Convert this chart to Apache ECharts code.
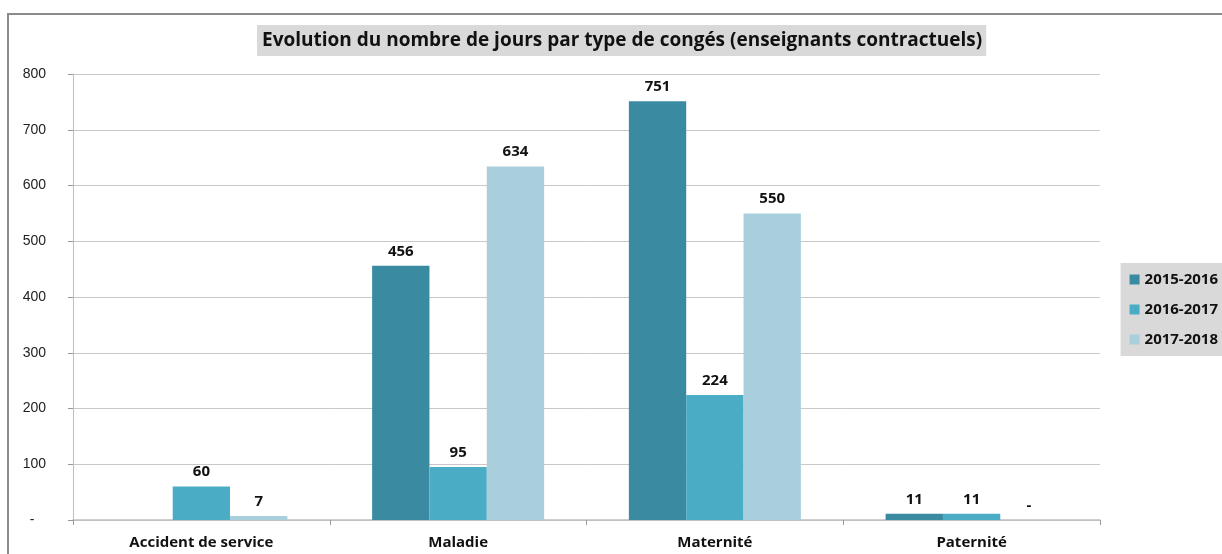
<!DOCTYPE html>
<html>
<head>
<meta charset="utf-8">
<script src="https://cdn.jsdelivr.net/npm/echarts@6/dist/echarts.min.js"></script>
<style>
  html, body { margin: 0; padding: 0; background: #fff; }
  #chart { width: 1222px; height: 554px; }
</style>
</head>
<body>
<div id="chart"></div>
<script>
var categories = ['Accident de service', 'Maladie', 'Maternité', 'Paternité']
var years = ['2015-2016', '2016-2017', '2017-2018']
var s2015 = [null, 456, 751, 11]
var s2016 = [60, 95, 224, 11]
var s2017 = [7, 634, 550, 0]
var colors = ['#3a8ba2', '#4bacc6', '#a9cfdc']

var myChart = echarts.init(document.getElementById('chart'))

function mkSeries(name, data, color) {
  return {
    name: name,
    type: 'bar',
    data: data,
    barGap: '0%',
    barCategoryGap: '33%',
    itemStyle: { color: color },
    label: {
      show: true,
      position: 'top',
      distance: 7,
      color: '#111',
      fontFamily: 'Open Sans',
      fontWeight: 'bold',
      fontSize: 15,
      formatter: function (p) {
        if (p.value === null || p.value === undefined) return ''
        return p.value === 0 ? '-' : p.value
      }
    }
  }
}

var option = {
  animation: false,
  backgroundColor: '#fff',
  textStyle: { fontFamily: 'Open Sans' },
  title: {
    text: 'Evolution du nombre de jours par type de congés (enseignants contractuels)',
    left: 257,
    top: 25,
    backgroundColor: '#d9d9d9',
    padding: [6, 4, 6, 5],
    textStyle: { fontFamily: 'Open Sans', fontWeight: 'bold', fontSize: 19, color: '#111' }
  },
  legend: {
    data: years,
    orient: 'vertical',
    right: 0,
    top: 263,
    backgroundColor: '#d9d9d9',
    padding: [9, 4, 9, 9],
    itemWidth: 10,
    itemHeight: 10,
    itemGap: 15,
    icon: 'rect',
    textStyle: { fontFamily: 'Open Sans', fontWeight: 'bold', fontSize: 15, color: '#111' }
  },
  grid: { left: 73, right: 122, top: 74, bottom: 34 },
  xAxis: {
    type: 'category',
    data: categories,
    axisLine: { lineStyle: { color: '#bfbfbf', width: 1.5 } },
    axisTick: { show: true, length: 5, lineStyle: { color: '#999' } },
    axisLabel: { color: '#111', fontFamily: 'Open Sans', fontWeight: 'bold', fontSize: 15, margin: 15 }
  },
  yAxis: {
    type: 'value',
    min: 0,
    max: 800,
    interval: 100,
    axisLine: { show: true, lineStyle: { color: '#bfbfbf' } },
    axisTick: { show: true, length: 5, lineStyle: { color: '#999' } },
    splitLine: { lineStyle: { color: '#c8c8c8' } },
    axisLabel: {
      color: '#222',
      fontFamily: 'Liberation Sans',
      fontSize: 14,
      margin: 27,
      formatter: function (v) { return v === 0 ? '-   ' : v }
    }
  },
  graphic: [{
    type: 'rect',
    shape: { x: 8, y: 14, width: 1300, height: 600 },
    style: { fill: null, stroke: '#8c8c8c', lineWidth: 2 },
    silent: true
  }],
  series: [
    mkSeries(years[0], s2015, colors[0]),
    mkSeries(years[1], s2016, colors[1]),
    mkSeries(years[2], s2017, colors[2])
  ]
}
myChart.setOption(option)
</script>
</body>
</html>
